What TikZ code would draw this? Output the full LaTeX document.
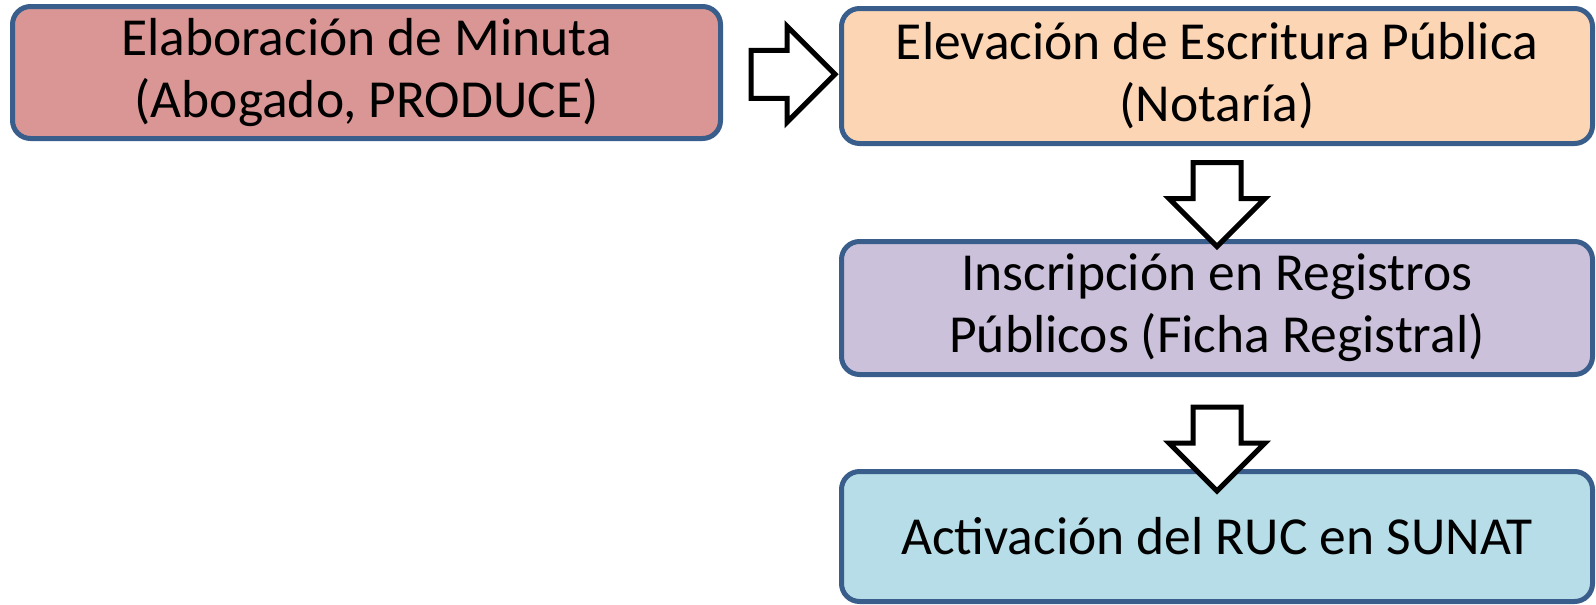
\documentclass[tikz,border=0pt]{standalone}
\usepackage{fontspec}
\setmainfont{Carlito}
\usetikzlibrary{shapes.arrows,calc,positioning}
\definecolor{borde}{HTML}{3A5E8C}
\definecolor{rojo}{HTML}{D99694}
\definecolor{naranja}{HTML}{FCD5B5}
\definecolor{lila}{HTML}{CCC1DA}
\definecolor{celeste}{HTML}{B7DEE8}

\begin{document}
\begin{tikzpicture}[x=1pt, y=-1pt, font=\fontsize{53.5}{62}\selectfont]
\tikzstyle{paso}=[draw=borde, line width=5pt, rounded corners=18pt, align=center, inner sep=0pt, minimum width=751pt]
\tikzstyle{flecha}=[single arrow, draw=black, fill=white, line width=5pt, inner xsep=0pt, inner ysep=21.5pt, minimum height=84pt, single arrow head extend=24pt]
\useasboundingbox (0,0) rectangle (1596,605);
\node[paso, fill=rojo, minimum width=708pt, minimum height=132pt]    (M) at (366.5,72.5) {Elaboración de Minuta\\(Abogado, PRODUCE)};
\node[paso, fill=naranja, minimum height=135pt]    (E) at (1217,76)   {Elevación de Escritura Pública\\(Notaría)};
\node[paso, fill=lila, minimum height=133pt]    (I) at (1217,308)   {Inscripción en Registros\\Públicos (Ficha Registral)};
\node[paso, fill=celeste, minimum height=130pt]    (A) at (1217,536.5)   {Activación del RUC en SUNAT};
% flechas entre pasos
\node[flecha] (f1) at ($(M.east)!.5!(E.west)$) {};
\node[flecha, rotate=-90] (f2) at ($(E.south)!.5!(I.north)$) {};
\node[flecha, rotate=-90, xshift=14pt] (f3) at ($(I.south)!.5!(A.north)$) {};
\end{tikzpicture}
\end{document}
